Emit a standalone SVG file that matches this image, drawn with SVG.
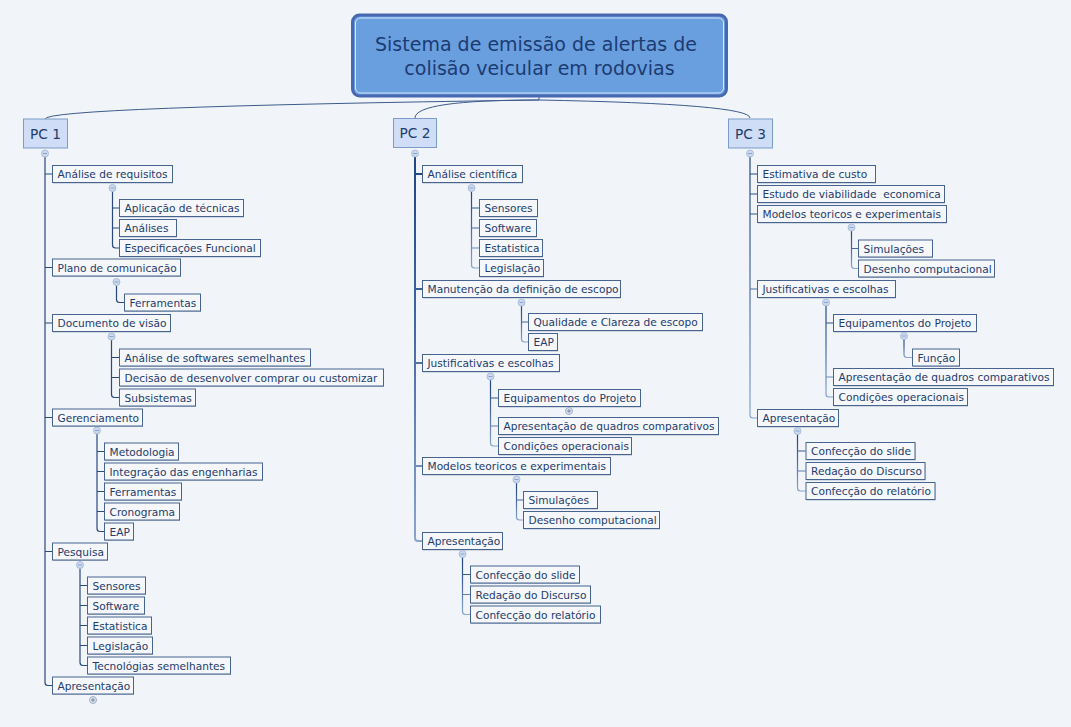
<svg xmlns="http://www.w3.org/2000/svg" width="1071" height="727" viewBox="0 0 1071 727">
<style>
.bg{fill:#f1f4f9}
.box rect.b{fill:#f5f7fb;stroke:#46648f;stroke-width:1}
.box rect.s{fill:#aebbcd}
.box text,.t{font-family:"DejaVu Sans",Verdana,sans-serif;font-size:10.6px;fill:#1e3c6c}
.pc rect{fill:#cfdef6;stroke:#7c9bc8;stroke-width:1}
.pc text{font-family:"DejaVu Sans",Verdana,sans-serif;font-size:13.7px;fill:#1e3c6c;text-anchor:middle}
.c1{fill:none;stroke:#2b4a7c;stroke-width:1.2}
.c2{fill:none;stroke:url(#gd);stroke-width:1.2}
.cm{fill:none;stroke:url(#gd);stroke-width:2}
.tc{fill:none;stroke:#3d5b8c;stroke-width:1}
</style>
<defs>
<linearGradient id="gd" x1="0" y1="0" x2="0" y2="1">
<stop offset="0" stop-color="#1f4680"/>
<stop offset="0.45" stop-color="#4468a3"/>
<stop offset="1" stop-color="#8aa5ce"/>
</linearGradient>
<g id="minus"><circle r="3.5" fill="#cad9ef" stroke="#9fb4d4" stroke-width="0.8"/><path d="M-2,0H2" stroke="#7f97bb" stroke-width="0.8" fill="none"/></g>
<g id="plus"><circle r="3.5" fill="#dfe6f1" stroke="#8c9db8" stroke-width="0.8"/><path d="M-2,0H2M0,-2V2" stroke="#5d7396" stroke-width="0.8" fill="none"/></g>
</defs>
<rect class="bg" x="0" y="0" width="1071" height="727"/>

<g id="connectors">
<path class="tc" d="M539,96V100"/>
<path class="tc" d="M539,100Q45,107 45,119"/>
<path class="tc" d="M539,100Q415,100 415,118"/>
<path class="tc" d="M539,100Q750,104 750,118"/>
<!-- PC1 -->
<path class="c1" d="M45,157V682.5Q45,685.5 48,685.5H52M45,174H52M45,267.5H52M45,323H52M45,417.5H52M45,551.5H52"/>
<path class="c1" d="M112.5,191.5V245Q112.5,248 115.5,248H119M112.5,208H119M112.5,228H119"/>
<path class="c1" d="M116.5,285.5V299.5Q116.5,302.5 119.5,302.5H124"/>
<path class="c1" d="M111.5,340V394.5Q111.5,397.5 114.5,397.5H119M111.5,357.5H119M111.5,377.5H119"/>
<path class="c1" d="M97,434V528.5Q97,531.5 100,531.5H104M97,451.5H104M97,471.5H104M97,491.5H104M97,511.5H104"/>
<path class="c1" d="M80,568.5V662.5Q80,665.5 83,665.5H87M80,585.5H87M80,605.5H87M80,625.5H87M80,645.5H87"/>
<!-- PC2 -->
<path class="cm" d="M415,157V538Q415,541 418,541H422M415,174H422M415,289H422M415,363H422M415,466H422"/>
<path class="c2" d="M471.5,191.5V265Q471.5,268 474.5,268H479M471.5,208H479M471.5,228H479M471.5,248H479"/>
<path class="c2" d="M521.5,306V339Q521.5,342 524.5,342H528M521.5,322H528"/>
<path class="c2" d="M490.5,380V443Q490.5,446 493.5,446H498M490.5,398H498M490.5,426H498"/>
<path class="c2" d="M516.5,483V517Q516.5,520 519.5,520H523M516.5,500H523"/>
<path class="c2" d="M462.5,557.5V611.5Q462.5,614.5 465.5,614.5H470M462.5,574.5H470M462.5,594.5H470"/>
<!-- PC3 -->
<path class="c2" d="M750,157V415Q750,418 753,418H757M750,174H757M750,194H757M750,214H757M750,289H757"/>
<path class="c2" d="M851.5,231V265.5Q851.5,268.5 854.5,268.5H858M851.5,248.5H858"/>
<path class="c2" d="M826,306V394Q826,397 829,397H833M826,323H833M826,377H833"/>
<path class="c2" d="M904,339.5V354.5Q904,357.5 907,357.5H912"/>
<path class="c2" d="M797.5,434.5V488Q797.5,491 800.5,491H805.5M797.5,451H805.5M797.5,471H805.5"/>
</g>

<g id="title">
<rect x="352.5" y="15" width="374" height="81" rx="7" fill="#6a9fdf" stroke="#4767b0" stroke-width="3"/>
<rect x="355.5" y="18" width="368" height="75" rx="5" fill="none" stroke="#d6e6fa" stroke-width="1"/>
<text x="536" y="51" font-family="'DejaVu Sans',Verdana,sans-serif" font-size="19px" fill="#1b3b72" text-anchor="middle">Sistema de emissão de alertas de</text>
<text x="539.5" y="75" font-family="'DejaVu Sans',Verdana,sans-serif" font-size="19px" fill="#1b3b72" text-anchor="middle">colisão veicular em rodovias</text>
</g>

<g id="pc1" class="pc"><rect x="23.5" y="119" width="44" height="29"/><text x="45.5" y="138.5">PC 1</text></g>
<g id="pc2" class="pc"><rect x="393.5" y="118.5" width="43" height="29"/><text x="415" y="138">PC 2</text></g>
<g id="pc3" class="pc"><rect x="728.5" y="119" width="44" height="29"/><text x="750.5" y="138.5">PC 3</text></g>

<g id="toggles">
<use href="#minus" x="45" y="153.5"/>
<use href="#minus" x="415" y="153.5"/>
<use href="#minus" x="750" y="153.5"/>
<use href="#minus" x="112.5" y="188"/>
<use href="#minus" x="116.5" y="282"/>
<use href="#minus" x="111.5" y="336.5"/>
<use href="#minus" x="97" y="430.5"/>
<use href="#minus" x="80" y="565"/>
<use href="#plus" x="93" y="700"/>
<use href="#minus" x="471.5" y="188"/>
<use href="#minus" x="521.5" y="302.5"/>
<use href="#minus" x="490.5" y="376.5"/>
<use href="#plus" x="569" y="411"/>
<use href="#minus" x="516.5" y="479.5"/>
<use href="#minus" x="462.5" y="554"/>
<use href="#minus" x="851.5" y="227.5"/>
<use href="#minus" x="826" y="302.5"/>
<use href="#minus" x="904" y="336"/>
<use href="#minus" x="797.5" y="431"/>
</g>

<!-- PC1 nodes -->
<g id="n1a" class="box"><rect class="s" x="53" y="166.5" width="120" height="17"/><rect class="b" x="52.5" y="165.5" width="120" height="17"/><text x="57.5" y="178">Análise de requisitos</text></g>
<g id="n1a1" class="box"><rect class="s" x="120" y="200.5" width="124" height="17"/><rect class="b" x="119.5" y="199.5" width="124" height="17"/><text x="124.5" y="212">Aplicação de técnicas</text></g>
<g id="n1a2" class="box"><rect class="s" x="120" y="220.5" width="57" height="17"/><rect class="b" x="119.5" y="219.5" width="57" height="17"/><text x="124.5" y="232">Análises</text></g>
<g id="n1a3" class="box"><rect class="s" x="120" y="240.5" width="141" height="17"/><rect class="b" x="119.5" y="239.5" width="141" height="17"/><text x="124.5" y="252">Especificações Funcional</text></g>
<g id="n1b" class="box"><rect class="s" x="53" y="260" width="128" height="17"/><rect class="b" x="52.5" y="259" width="128" height="17"/><text x="57.5" y="271.5">Plano de comunicação</text></g>
<g id="n1b1" class="box"><rect class="s" x="125" y="295" width="76" height="17"/><rect class="b" x="124.5" y="294" width="76" height="17"/><text x="129.5" y="306.5">Ferramentas</text></g>
<g id="n1c" class="box"><rect class="s" x="53" y="315.5" width="118" height="17"/><rect class="b" x="52.5" y="314.5" width="118" height="17"/><text x="57.5" y="327">Documento de visão</text></g>
<g id="n1c1" class="box"><rect class="s" x="120" y="350" width="191" height="17"/><rect class="b" x="119.5" y="349" width="191" height="17"/><text x="124.5" y="361.5">Análise de softwares semelhantes</text></g>
<g id="n1c2" class="box"><rect class="s" x="120" y="370" width="264" height="17"/><rect class="b" x="119.5" y="369" width="264" height="17"/><text x="124.5" y="381.5">Decisão de desenvolver comprar ou customizar</text></g>
<g id="n1c3" class="box"><rect class="s" x="120" y="390" width="76" height="17"/><rect class="b" x="119.5" y="389" width="76" height="17"/><text x="124.5" y="401.5">Subsistemas</text></g>
<g id="n1d" class="box"><rect class="s" x="53" y="410" width="90" height="17"/><rect class="b" x="52.5" y="409" width="90" height="17"/><text x="57.5" y="421.5">Gerenciamento</text></g>
<g id="n1d1" class="box"><rect class="s" x="105" y="444" width="74" height="17"/><rect class="b" x="104.5" y="443" width="74" height="17"/><text x="109.5" y="455.5">Metodologia</text></g>
<g id="n1d2" class="box"><rect class="s" x="105" y="464" width="158" height="17"/><rect class="b" x="104.5" y="463" width="158" height="17"/><text x="109.5" y="475.5">Integração das engenharias</text></g>
<g id="n1d3" class="box"><rect class="s" x="105" y="484" width="77" height="17"/><rect class="b" x="104.5" y="483" width="77" height="17"/><text x="109.5" y="495.5">Ferramentas</text></g>
<g id="n1d4" class="box"><rect class="s" x="105" y="504" width="75" height="17"/><rect class="b" x="104.5" y="503" width="75" height="17"/><text x="109.5" y="515.5">Cronograma</text></g>
<g id="n1d5" class="box"><rect class="s" x="105" y="524" width="29" height="17"/><rect class="b" x="104.5" y="523" width="29" height="17"/><text x="109.5" y="535.5">EAP</text></g>
<g id="n1e" class="box"><rect class="s" x="53" y="544" width="55" height="17"/><rect class="b" x="52.5" y="543" width="55" height="17"/><text x="57.5" y="555.5">Pesquisa</text></g>
<g id="n1e1" class="box"><rect class="s" x="88" y="578" width="58" height="17"/><rect class="b" x="87.5" y="577" width="58" height="17"/><text x="92.5" y="589.5">Sensores</text></g>
<g id="n1e2" class="box"><rect class="s" x="88" y="598" width="57" height="17"/><rect class="b" x="87.5" y="597" width="57" height="17"/><text x="92.5" y="609.5">Software</text></g>
<g id="n1e3" class="box"><rect class="s" x="88" y="618" width="64" height="17"/><rect class="b" x="87.5" y="617" width="64" height="17"/><text x="92.5" y="629.5">Estatistica</text></g>
<g id="n1e4" class="box"><rect class="s" x="88" y="638" width="65" height="17"/><rect class="b" x="87.5" y="637" width="65" height="17"/><text x="92.5" y="649.5">Legislação</text></g>
<g id="n1e5" class="box"><rect class="s" x="88" y="658" width="143" height="17"/><rect class="b" x="87.5" y="657" width="143" height="17"/><text x="92.5" y="669.5">Tecnológias semelhantes</text></g>
<g id="n1f" class="box"><rect class="s" x="53" y="678" width="81" height="17"/><rect class="b" x="52.5" y="677" width="81" height="17"/><text x="57.5" y="689.5">Apresentação</text></g>

<!-- PC2 nodes -->
<g id="n2a" class="box"><rect class="s" x="423" y="166.5" width="100" height="17"/><rect class="b" x="422.5" y="165.5" width="100" height="17"/><text x="427.5" y="178">Análise científica</text></g>
<g id="n2a1" class="box"><rect class="s" x="480" y="200.5" width="58" height="17"/><rect class="b" x="479.5" y="199.5" width="58" height="17"/><text x="484.5" y="212">Sensores</text></g>
<g id="n2a2" class="box"><rect class="s" x="480" y="220.5" width="57" height="17"/><rect class="b" x="479.5" y="219.5" width="57" height="17"/><text x="484.5" y="232">Software</text></g>
<g id="n2a3" class="box"><rect class="s" x="480" y="240.5" width="63" height="17"/><rect class="b" x="479.5" y="239.5" width="63" height="17"/><text x="484.5" y="252">Estatistica</text></g>
<g id="n2a4" class="box"><rect class="s" x="480" y="260.5" width="64" height="17"/><rect class="b" x="479.5" y="259.5" width="64" height="17"/><text x="484.5" y="272">Legislação</text></g>
<g id="n2b" class="box"><rect class="s" x="423" y="281.5" width="198" height="17"/><rect class="b" x="422.5" y="280.5" width="198" height="17"/><text x="427.5" y="293">Manutenção da definição de escopo</text></g>
<g id="n2b1" class="box"><rect class="s" x="529" y="314.5" width="174" height="17"/><rect class="b" x="528.5" y="313.5" width="174" height="17"/><text x="533.5" y="326">Qualidade e Clareza de escopo</text></g>
<g id="n2b2" class="box"><rect class="s" x="529" y="334.5" width="29" height="17"/><rect class="b" x="528.5" y="333.5" width="29" height="17"/><text x="533.5" y="346">EAP</text></g>
<g id="n2c" class="box"><rect class="s" x="423" y="355.5" width="137" height="17"/><rect class="b" x="422.5" y="354.5" width="137" height="17"/><text x="427.5" y="367">Justificativas e escolhas</text></g>
<g id="n2c1" class="box"><rect class="s" x="499" y="390.5" width="142" height="17"/><rect class="b" x="498.5" y="389.5" width="142" height="17"/><text x="503.5" y="402">Equipamentos do Projeto</text></g>
<g id="n2c2" class="box"><rect class="s" x="499" y="418.5" width="220" height="17"/><rect class="b" x="498.5" y="417.5" width="220" height="17"/><text x="503.5" y="430">Apresentação de quadros comparativos</text></g>
<g id="n2c3" class="box"><rect class="s" x="499" y="438.5" width="133" height="17"/><rect class="b" x="498.5" y="437.5" width="133" height="17"/><text x="503.5" y="450">Condições operacionais</text></g>
<g id="n2d" class="box"><rect class="s" x="423" y="458.5" width="188" height="17"/><rect class="b" x="422.5" y="457.5" width="188" height="17"/><text x="427.5" y="470">Modelos teoricos e experimentais</text></g>
<g id="n2d1" class="box"><rect class="s" x="524" y="492.5" width="74" height="17"/><rect class="b" x="523.5" y="491.5" width="74" height="17"/><text x="528.5" y="504" xml:space="preserve">Simulações </text></g>
<g id="n2d2" class="box"><rect class="s" x="524" y="512.5" width="136" height="17"/><rect class="b" x="523.5" y="511.5" width="136" height="17"/><text x="528.5" y="524">Desenho computacional</text></g>
<g id="n2e" class="box"><rect class="s" x="423" y="533.5" width="80" height="17"/><rect class="b" x="422.5" y="532.5" width="80" height="17"/><text x="427.5" y="545">Apresentação</text></g>
<g id="n2e1" class="box"><rect class="s" x="471" y="567" width="109" height="17"/><rect class="b" x="470.5" y="566" width="109" height="17"/><text x="475.5" y="578.5">Confecção do slide</text></g>
<g id="n2e2" class="box"><rect class="s" x="471" y="587" width="120" height="17"/><rect class="b" x="470.5" y="586" width="120" height="17"/><text x="475.5" y="598.5">Redação do Discurso</text></g>
<g id="n2e3" class="box"><rect class="s" x="471" y="607" width="130" height="17"/><rect class="b" x="470.5" y="606" width="130" height="17"/><text x="475.5" y="618.5">Confecção do relatório</text></g>

<!-- PC3 nodes -->
<g id="n3a" class="box"><rect class="s" x="758" y="166.5" width="118" height="17"/><rect class="b" x="757.5" y="165.5" width="118" height="17"/><text x="762.5" y="178" xml:space="preserve">Estimativa de custo </text></g>
<g id="n3b" class="box"><rect class="s" x="758" y="186.5" width="187" height="17"/><rect class="b" x="757.5" y="185.5" width="187" height="17"/><text x="762.5" y="198" xml:space="preserve">Estudo de viabilidade  economica</text></g>
<g id="n3c" class="box"><rect class="s" x="758" y="206.5" width="189" height="17"/><rect class="b" x="757.5" y="205.5" width="189" height="17"/><text x="762.5" y="218">Modelos teoricos e experimentais</text></g>
<g id="n3c1" class="box"><rect class="s" x="859" y="241" width="74" height="17"/><rect class="b" x="858.5" y="240" width="74" height="17"/><text x="863.5" y="252.5" xml:space="preserve">Simulações </text></g>
<g id="n3c2" class="box"><rect class="s" x="859" y="261" width="136" height="17"/><rect class="b" x="858.5" y="260" width="136" height="17"/><text x="863.5" y="272.5">Desenho computacional</text></g>
<g id="n3d" class="box"><rect class="s" x="758" y="281.5" width="138" height="17"/><rect class="b" x="757.5" y="280.5" width="138" height="17"/><text x="762.5" y="293">Justificativas e escolhas</text></g>
<g id="n3d1" class="box"><rect class="s" x="834" y="315.5" width="143" height="17"/><rect class="b" x="833.5" y="314.5" width="143" height="17"/><text x="838.5" y="327">Equipamentos do Projeto</text></g>
<g id="n3d1a" class="box"><rect class="s" x="913" y="350" width="47" height="17"/><rect class="b" x="912.5" y="349" width="47" height="17"/><text x="917.5" y="361.5">Função</text></g>
<g id="n3d2" class="box"><rect class="s" x="834" y="369.5" width="220" height="17"/><rect class="b" x="833.5" y="368.5" width="220" height="17"/><text x="838.5" y="381">Apresentação de quadros comparativos</text></g>
<g id="n3d3" class="box"><rect class="s" x="834" y="389.5" width="134" height="17"/><rect class="b" x="833.5" y="388.5" width="134" height="17"/><text x="838.5" y="401">Condições operacionais</text></g>
<g id="n3e" class="box"><rect class="s" x="758" y="410.5" width="81" height="17"/><rect class="b" x="757.5" y="409.5" width="81" height="17"/><text x="762.5" y="422">Apresentação</text></g>
<g id="n3e1" class="box"><rect class="s" x="806.5" y="443.5" width="109" height="17"/><rect class="b" x="806" y="442.5" width="109" height="17"/><text x="811" y="455">Confecção do slide</text></g>
<g id="n3e2" class="box"><rect class="s" x="806.5" y="463.5" width="119" height="17"/><rect class="b" x="806" y="462.5" width="119" height="17"/><text x="811" y="475">Redação do Discurso</text></g>
<g id="n3e3" class="box"><rect class="s" x="806.5" y="483.5" width="129" height="17"/><rect class="b" x="806" y="482.5" width="129" height="17"/><text x="811" y="495">Confecção do relatório</text></g>
</svg>
